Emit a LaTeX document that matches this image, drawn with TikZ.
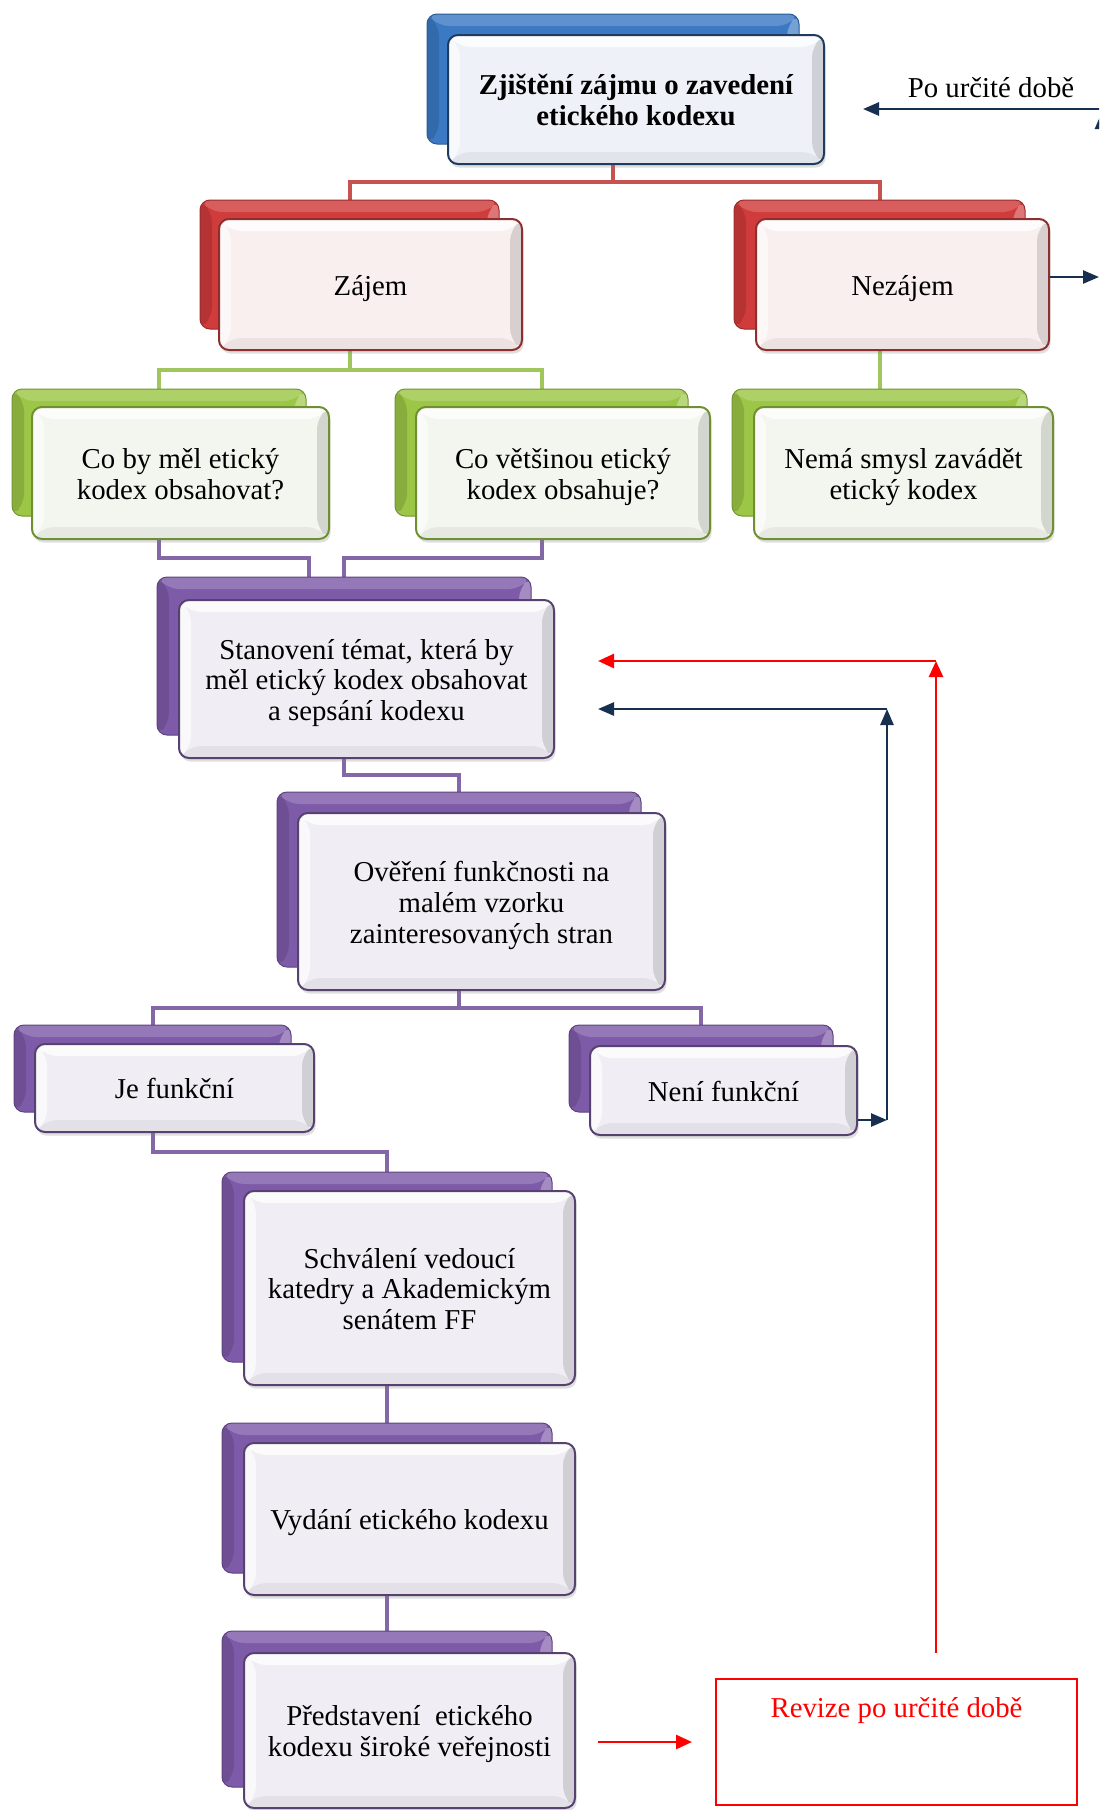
\documentclass[tikz,border=0pt]{standalone}
\usepackage{fontspec}
\setmainfont{Liberation Serif}
\usetikzlibrary{calc,backgrounds,shadows,arrows.meta}
\newcommand{\dgfont}{\fontsize{14.4}{15.4}\selectfont}
\newcommand{\sttop}{\rule{0pt}{14pt}}
\newcommand{\stbot}{\rule[-3.2pt]{0pt}{3.2pt}}
\definecolor{bluebk}{HTML}{3B79C4}
\definecolor{bluebd}{HTML}{1F3B5E}
\definecolor{bluefc}{HTML}{EEF1F7}
\definecolor{redbk}{HTML}{D03B3B}
\definecolor{redbd}{HTML}{8E2F2F}
\definecolor{redfc}{HTML}{F9EFEF}
\definecolor{redln}{HTML}{C85250}
\definecolor{grnbk}{HTML}{9CC646}
\definecolor{grnbd}{HTML}{6F8F32}
\definecolor{grnfc}{HTML}{F3F6EE}
\definecolor{grnln}{HTML}{A2C65E}
\definecolor{purbk}{HTML}{7E5BA8}
\definecolor{purbd}{HTML}{56416F}
\definecolor{purfc}{HTML}{F0EEF4}
\definecolor{purln}{HTML}{8467A6}
\definecolor{navy}{HTML}{17304F}
\tikzset{
  bevel/.style={path picture={
    \fill[white,opacity=.8] (path picture bounding box.north west) -- (path picture bounding box.north east) -- ([xshift=-6pt,yshift=-6pt]path picture bounding box.north east) -- ([xshift=6pt,yshift=-6pt]path picture bounding box.north west) -- cycle;
    \fill[black,opacity=.13] (path picture bounding box.north east) -- (path picture bounding box.south east) -- ([xshift=-6pt,yshift=6pt]path picture bounding box.south east) -- ([xshift=-6pt,yshift=-6pt]path picture bounding box.north east) -- cycle;
    \fill[black,opacity=.05] (path picture bounding box.south west) -- (path picture bounding box.south east) -- ([xshift=-6pt,yshift=6pt]path picture bounding box.south east) -- ([xshift=6pt,yshift=6pt]path picture bounding box.south west) -- cycle;
    \fill[white,opacity=.6] (path picture bounding box.north west) -- (path picture bounding box.south west) -- ([xshift=6pt,yshift=6pt]path picture bounding box.south west) -- ([xshift=6pt,yshift=-6pt]path picture bounding box.north west) -- cycle;
  }},
  bkbevel/.style={path picture={
    \fill[black,opacity=.12] (path picture bounding box.north west) -- (path picture bounding box.south west) -- ([xshift=6pt,yshift=6pt]path picture bounding box.south west) -- ([xshift=6pt,yshift=-6pt]path picture bounding box.north west) -- cycle;
    \fill[white,opacity=.18] (path picture bounding box.north west) -- (path picture bounding box.north east) -- ([xshift=-6pt,yshift=-6pt]path picture bounding box.north east) -- ([xshift=6pt,yshift=-6pt]path picture bounding box.north west) -- cycle;
    \fill[white,opacity=.3] (path picture bounding box.north east) -- (path picture bounding box.south east) -- ([xshift=-6pt,yshift=6pt]path picture bounding box.south east) -- ([xshift=-6pt,yshift=-6pt]path picture bounding box.north east) -- cycle;
  }},
  bk/.style={rounded corners=5pt, fill=#1, draw=#1!75!black, line width=0.5pt, bkbevel, inner sep=0pt},
  fr/.style 2 args={rounded corners=5pt, fill=#2, draw=#1, line width=1pt,
    drop shadow={shadow xshift=0.8pt, shadow yshift=-1.8pt, opacity=0.25},
    bevel, align=center, font=\dgfont, inner sep=0pt},
  rconn/.style={draw=redln, line width=2pt},
  gconn/.style={draw=grnln, line width=2pt},
  pconn/.style={draw=purln, line width=2pt},
  navyarr/.style={draw=navy, line width=1.3pt, -{Triangle[length=8pt,width=6.5pt]}},
  redarr/.style={draw=red, line width=1.3pt, -{Triangle[length=8pt,width=7pt]}},
}
\begin{document}
\begin{tikzpicture}[x=0.5pt,y=-0.5pt]
\useasboundingbox (0,0) rectangle (1099,1810);
\begin{pgfonlayer}{background}
\fill[white] (0,0) rectangle (1099,1810);
\end{pgfonlayer}
\clip (0,0) rectangle (1099,1810);

% level 0
\node[bk=bluebk, minimum width=186pt, minimum height=65pt] (topb) at (613,79) {};
\node[fr={bluebd}{bluefc}, minimum width=188pt, minimum height=64.5pt, font=\dgfont\bfseries] (topf) at (636,99.5) {\sttop Zjištění zájmu o zavedení\\etického kodexu\stbot};

% level 1
\node[bk=redbk, minimum width=149.5pt, minimum height=64.5pt] (zajb) at (349.5,264.5) {};
\node[fr={redbd}{redfc}, minimum width=151.5pt, minimum height=65.5pt] (zajf) at (370.5,284.5) {\sttop Zájem\stbot};
\node[bk=redbk, minimum width=145.5pt, minimum height=64.5pt] (nezb) at (879.5,264.5) {};
\node[fr={redbd}{redfc}, minimum width=146.5pt, minimum height=65.5pt] (nezf) at (902.5,284.5) {\sttop Nezájem\stbot};

% level 2
\node[bk=grnbk, minimum width=147pt, minimum height=63.5pt] (cobyb) at (159,452.5) {};
\node[fr={grnbd}{grnfc}, minimum width=148.5pt, minimum height=66pt] (cobyf) at (180.5,473) {\sttop Co by měl etický\\kodex obsahovat?\stbot};
\node[bk=grnbk, minimum width=146.5pt, minimum height=63.5pt] (covb) at (541.5,452.5) {};
\node[fr={grnbd}{grnfc}, minimum width=147pt, minimum height=66pt] (covf) at (563,473) {\sttop Co většinou etický\\kodex obsahuje?\stbot};
\node[bk=grnbk, minimum width=147.5pt, minimum height=63.5pt] (nemab) at (879.5,452.5) {};
\node[fr={grnbd}{grnfc}, minimum width=149.5pt, minimum height=66pt] (nemaf) at (903.5,473) {\sttop Nemá smysl zavádět\\etický kodex\stbot};

% purple chain
\node[bk=purbk, minimum width=187pt, minimum height=79pt] (stanb) at (344,656) {};
\node[fr={purbd}{purfc}, minimum width=187.5pt, minimum height=79pt] (stanf) at (366.5,679) {\sttop Stanovení témat, která by\\měl etický kodex obsahovat\\a sepsání kodexu\stbot};
\node[bk=purbk, minimum width=182pt, minimum height=87.5pt] (overb) at (459,879.5) {};
\node[fr={purbd}{purfc}, minimum width=183.5pt, minimum height=88.5pt] (overf) at (481.5,901.5) {\sttop Ověření funkčnosti na\\malém vzorku\\zainteresovaných stran\stbot};
\node[bk=purbk, minimum width=138.5pt, minimum height=43.5pt] (jeb) at (152.5,1068.5) {};
\node[fr={purbd}{purfc}, minimum width=139.5pt, minimum height=44pt] (jef) at (174.5,1088) {\sttop Je funkční\stbot};
\node[bk=purbk, minimum width=132pt, minimum height=43.5pt] (nenib) at (701,1068.5) {};
\node[fr={purbd}{purfc}, minimum width=133.5pt, minimum height=44.5pt] (nenif) at (723.5,1090.5) {\sttop Není funkční\stbot};
\node[bk=purbk, minimum width=165pt, minimum height=95pt] (schvb) at (387,1267) {};
\node[fr={purbd}{purfc}, minimum width=165.5pt, minimum height=97pt] (schvf) at (409.5,1288) {\sttop Schválení vedoucí\\katedry a Akademickým\\senátem FF\stbot};
\node[bk=purbk, minimum width=165pt, minimum height=75pt] (vydb) at (387,1498) {};
\node[fr={purbd}{purfc}, minimum width=165.5pt, minimum height=76pt] (vydf) at (409.5,1519) {\sttop Vydání etického kodexu\stbot};
\node[bk=purbk, minimum width=165pt, minimum height=78pt] (predb) at (387,1709) {};
\node[fr={purbd}{purfc}, minimum width=165.5pt, minimum height=77.5pt] (predf) at (409.5,1730.5) {\sttop Představení\ \ etického\\kodexu široké veřejnosti\stbot};

% revision box
\node[draw=red, line width=1pt, minimum width=180.5pt, minimum height=63pt, inner sep=0pt,
  label={[anchor=center, yshift=-16.5pt, text=red, font=\dgfont]90:Revize po určité době}] (revize) at (896.5,1742) {};

% side text
\node[font=\dgfont, inner sep=0pt] (potext) at (991,88) {Po určité době};

% connectors (behind boxes)
\begin{pgfonlayer}{background}
\draw[rconn] (topb.center) |- ($(topf.south)!0.5!(zajb.north)$) -| (zajb.north);
\draw[rconn] (topb.center) |- ($(topf.south)!0.5!(nezb.north)$) -| (nezb.north);
\draw[gconn] (zajb.center) |- ($(zajf.south)!0.5!(cobyb.north)$) -| (cobyb.north);
\draw[gconn] (zajb.center) |- ($(zajf.south)!0.5!(covb.north)$) -| (covb.north);
\draw[gconn] (nezb.center) -- (nemab.north);
\draw[pconn] (cobyb.center) |- ($(cobyf.south)!0.5!([xshift=-17.5pt]stanb.north)$) -| ([xshift=-17.5pt]stanb.north);
\draw[pconn] (covb.center) |- ($(covf.south)!0.5!(stanb.north)$) -| (stanb.north);
\draw[pconn] (stanb.center) |- ($(stanf.south)!0.5!(overb.north)$) -| (overb.north);
\draw[pconn] (overb.center) |- ($(overf.south)!0.5!(jeb.north)$) -| (jeb.north);
\draw[pconn] (overb.center) |- ($(overf.south)!0.5!(nenib.north)$) -| (nenib.north);
\draw[pconn] (jeb.center) |- ($(jef.south)!0.5!(schvb.north)$) -| (schvb.north);
\draw[pconn] (schvb.center) -- (vydb.north);
\draw[pconn] (vydb.center) -- (predb.north);
\end{pgfonlayer}

% arrows
\coordinate (poTip) at (863,109);
\coordinate (rightTop) at (1101.5,109);
\coordinate (rightUp) at (1101.5,113);
\coordinate (rightBot) at (1101.5,277);
\coordinate (nezTip) at (1099,277);
\draw[navyarr] (rightTop) -- (poTip);
\draw[navyarr] (rightBot) -- (rightUp);
\draw[navyarr] ([yshift=3.75pt]nezf.east) -- (nezTip);

\coordinate (nvCorner) at (887,1120);
\coordinate (nvTop) at (887,709);
\coordinate (nvTip) at (598,709);
\draw[navyarr] (nenif.east |- nvCorner) -- (nvCorner);
\draw[navyarr] (nvCorner) -- (nvTop);
\draw[navyarr] (nvTop) -- (nvTip);

\coordinate (rdBot) at (936,1653);
\coordinate (rdTop) at (936,661);
\coordinate (rdTip) at (598,661);
\draw[redarr] (rdBot) -- (rdTop);
\draw[redarr] (rdTop) -- (rdTip);
\draw[redarr] ($(predf.east |- revize.west)+(22,0)$) -- ($(revize.west)+(-23,0)$);
\end{tikzpicture}
\end{document}
